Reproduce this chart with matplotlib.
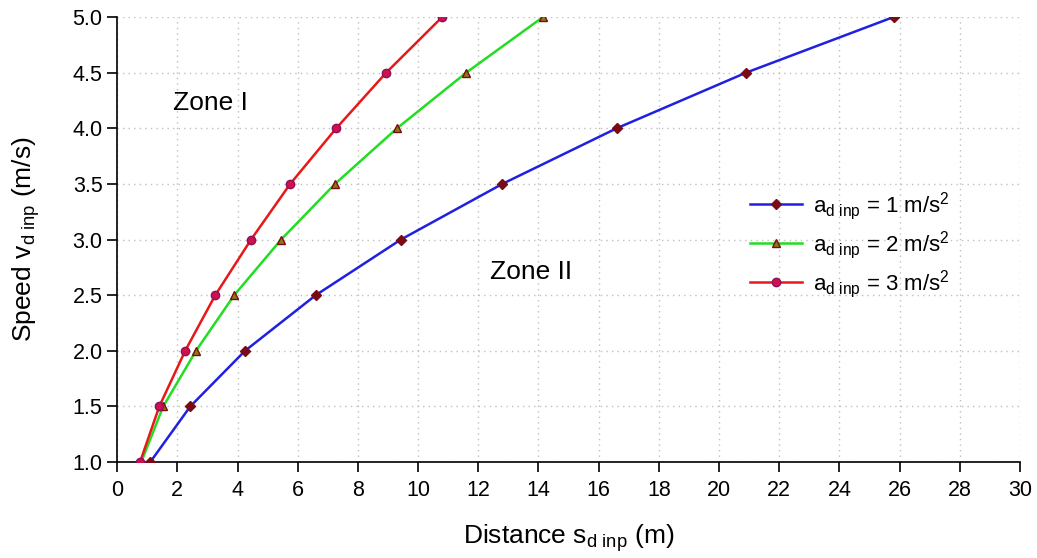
import matplotlib
matplotlib.use("Agg")
import matplotlib.pyplot as plt

plt.rcParams['font.family'] = ['Liberation Sans', 'DejaVu Sans']

speed = [1.0, 1.5, 2.0, 2.5, 3.0, 3.5, 4.0, 4.5, 5.0]
dist_a1 = [1.1, 2.43, 4.25, 6.6, 9.43, 12.8, 16.6, 20.9, 25.8]
dist_a2 = [0.8, 1.53, 2.62, 3.89, 5.45, 7.24, 9.3, 11.6, 14.15]
dist_a3 = [0.76, 1.4, 2.26, 3.26, 4.45, 5.75, 7.28, 8.94, 10.8]
labels = [r'a$_{\mathrm{d\ inp}}$ = 1 m/s$^2$',
          r'a$_{\mathrm{d\ inp}}$ = 2 m/s$^2$',
          r'a$_{\mathrm{d\ inp}}$ = 3 m/s$^2$']
xticks = list(range(0, 31, 2))
yticks = [1.0, 1.5, 2.0, 2.5, 3.0, 3.5, 4.0, 4.5, 5.0]

plt.rcParams['mathtext.fontset'] = 'custom'
plt.rcParams['mathtext.rm'] = 'Liberation Sans'
plt.rcParams['mathtext.it'] = 'Liberation Sans:italic'

fig = plt.figure(figsize=(10.37, 5.58), dpi=100)
ax = fig.add_axes([0.113, 0.172, 0.9836 - 0.113, 0.9695 - 0.172])

ax.plot(dist_a1, speed, color='#2020e0', lw=1.8, marker='D', ms=5,
        mfc='#7a0a14', mec='#7a0a14', label=labels[0], zorder=3)
ax.plot(dist_a2, speed, color='#22dd22', lw=1.8, marker='^', ms=6,
        mfc='#8a7a10', mec='#7a0a14', label=labels[1], zorder=3)
ax.plot(dist_a3, speed, color='#e81818', lw=1.8, marker='o', ms=6,
        mfc='#d0104a', mec='#8a1060', label=labels[2], zorder=4)

ax.set_xlim(0, 30)
ax.set_ylim(1.0, 5.0)
ax.set_xticks(xticks)
ax.set_yticks(yticks)
ax.set_yticklabels([f'{v:.1f}' for v in yticks])
ax.tick_params(axis='both', labelsize=15.5, direction='out', length=7, width=1.2)
ax.tick_params(axis='x', pad=6)
ax.grid(True, linestyle=(0, (1, 3)), color='#c0c0c0', lw=1)
ax.set_axisbelow(True)
for s in ['top', 'right']:
    ax.spines[s].set_visible(False)
for s in ['left', 'bottom']:
    ax.spines[s].set_linewidth(1.2)

ax.set_xlabel(r'Distance s$_{\mathrm{d\ inp}}$ (m)', fontsize=19, labelpad=15)
ax.set_ylabel(r'Speed v$_{\mathrm{d\ inp}}$ (m/s)', fontsize=19, labelpad=22)

ax.text(1.86, 4.23, 'Zone I', fontsize=19, va='center', ha='left')
ax.text(12.4, 2.71, 'Zone II', fontsize=19, va='center', ha='left')

ax.legend(loc='center left', bbox_to_anchor=(0.701, 0.488), frameon=False,
          fontsize=16, handlelength=2.35, labelspacing=0.32, handletextpad=0.5,
          borderpad=0, borderaxespad=0)

fig.savefig('out.png', dpi=100)
